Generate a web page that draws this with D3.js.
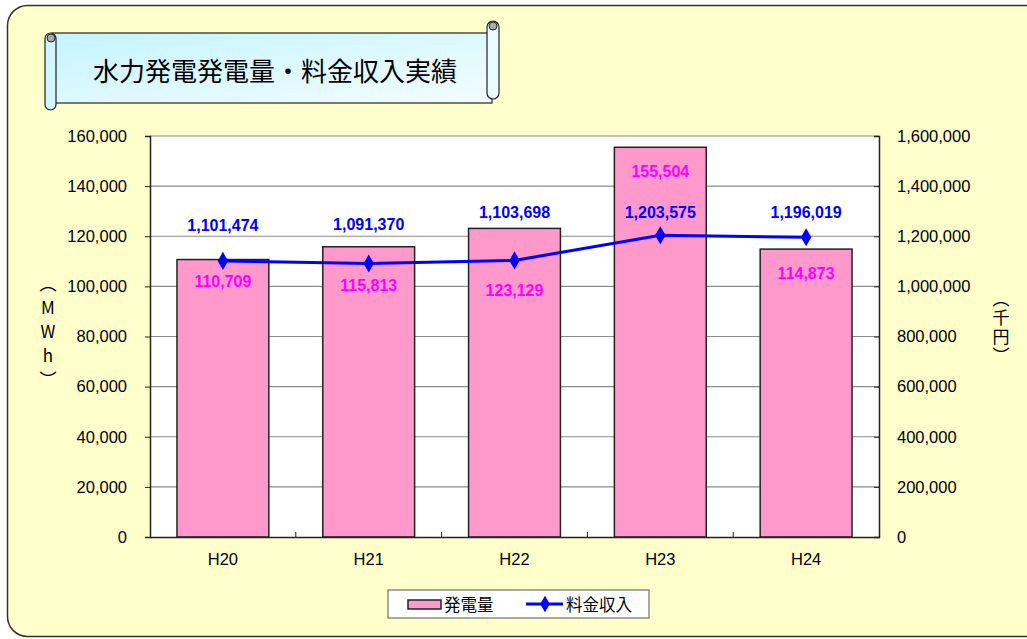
<!DOCTYPE html>
<html>
<head>
<meta charset="utf-8">
<script src="https://cdn.jsdelivr.net/npm/d3@7"></script>
<style>
  body { margin: 0; background: #fff; }
  text { font-family: "Liberation Sans", Arial, "Noto Sans CJK JP", sans-serif; }
  .jp { font-family: "Noto Sans CJK JP", sans-serif; }
</style>
</head>
<body>
<div id="chart"></div>
<script>
// data
const years = ["H20", "H21", "H22", "H23", "H24"];
const generation = [110709, 115813, 123129, 155504, 114873];   // MWh
const revenue = [1101474, 1091370, 1103698, 1203575, 1196019];  // 千円
const leftTicks = [0, 20000, 40000, 60000, 80000, 100000, 120000, 140000, 160000];
const rightTicks = [0, 200000, 400000, 600000, 800000, 1000000, 1200000, 1400000, 1600000];

// label placement (pixels, relative to the mark) as in the original sheet
const barLabelShift = [27, 44, 68, 30, 30];
const lineLabelShift = [-30, -33, -42, -17, -19];

const W = 1027, H = 639;
const plot = { left: 150, right: 879, top: 136, bottom: 537 };
const fmt = d3.format(",");

const svg = d3.select("#chart").append("svg")
    .attr("width", W)
    .attr("height", H);

const defs = svg.append("defs");
const grad = defs.append("linearGradient")
    .attr("id", "scrollGrad")
    .attr("x1", "0").attr("y1", "0").attr("x2", "1").attr("y2", "1");
grad.append("stop").attr("offset", "0%").attr("stop-color", "#c4f4ff");
grad.append("stop").attr("offset", "100%").attr("stop-color", "#f4fdff");

// outer frame
svg.append("rect")
    .attr("x", 7.5).attr("y", 5.5)
    .attr("width", 1040).attr("height", 631)
    .attr("rx", 20).attr("ry", 20)
    .attr("fill", "#ffffcc")
    .attr("stroke", "#333")
    .attr("stroke-width", 1.5);

// title scroll
const scroll = svg.append("g");
scroll.append("rect")
    .attr("x", 52).attr("y", 33).attr("width", 440).attr("height", 70)
    .attr("fill", "url(#scrollGrad)")
    .attr("stroke", "#222").attr("stroke-width", 1.2);
scroll.append("rect")
    .attr("x", 45).attr("y", 33).attr("width", 11).attr("height", 77)
    .attr("rx", 5.5)
    .attr("fill", "#d2f6ff").attr("stroke", "#222").attr("stroke-width", 1.2);
scroll.append("circle")
    .attr("cx", 51).attr("cy", 38).attr("r", 4)
    .attr("fill", "#aaa").attr("stroke", "#222").attr("stroke-width", 1);
scroll.append("rect")
    .attr("x", 487).attr("y", 21).attr("width", 12).attr("height", 78)
    .attr("rx", 6)
    .attr("fill", "#e8fcff").attr("stroke", "#222").attr("stroke-width", 1.2);
scroll.append("circle")
    .attr("cx", 493).attr("cy", 26).attr("r", 4)
    .attr("fill", "#aaa").attr("stroke", "#222").attr("stroke-width", 1);
scroll.append("text")
    .attr("class", "jp")
    .attr("x", 275).attr("y", 81)
    .attr("text-anchor", "middle")
    .attr("font-size", 26)
    .attr("fill", "#000")
    .text("水力発電発電量・料金収入実績");

// scales
const x = d3.scaleBand()
    .domain(years)
    .range([plot.left, plot.right])
    .paddingInner(0.37)
    .paddingOuter(0.185);
const xOuter = d3.scaleBand()
    .domain(years)
    .range([plot.left, plot.right]);
const yL = d3.scaleLinear().domain([0, 160000]).range([plot.bottom, plot.top]);
const yR = d3.scaleLinear().domain([0, 1600000]).range([plot.bottom, plot.top]);

// plot area
svg.append("rect")
    .attr("x", plot.left).attr("y", plot.top)
    .attr("width", plot.right - plot.left).attr("height", plot.bottom - plot.top)
    .attr("fill", "#fff");

svg.append("g").selectAll("line")
    .data(leftTicks.slice(1))
    .enter().append("line")
    .attr("x1", plot.left).attr("x2", plot.right)
    .attr("y1", d => yL(d)).attr("y2", d => yL(d))
    .attr("stroke", "#8c8c8c").attr("stroke-width", 1.2);

// bars
svg.append("g").selectAll(".bar")
    .data(generation)
    .enter().append("rect")
    .attr("class", "bar")
    .attr("x", (d, i) => x(years[i]))
    .attr("y", d => yL(d))
    .attr("width", x.bandwidth())
    .attr("height", d => plot.bottom - yL(d))
    .attr("fill", "#ff99cc")
    .attr("stroke", "#222")
    .attr("stroke-width", 1.5);

// axes
const axisL = svg.append("g")
    .attr("transform", "translate(" + plot.left + ",0)")
    .call(d3.axisLeft(yL).tickValues(leftTicks).tickFormat(fmt).tickSize(5).tickPadding(18));
const axisR = svg.append("g")
    .attr("transform", "translate(" + plot.right + ",0)")
    .call(d3.axisRight(yR).tickValues(rightTicks).tickFormat(fmt).tickSize(-5).tickPadding(18));
const axisB = svg.append("g")
    .attr("transform", "translate(0," + plot.bottom + ")")
    .call(d3.axisBottom(xOuter).tickSize(0).tickPadding(16));

[axisL, axisR, axisB].forEach(a => {
    a.select(".domain").attr("stroke", "#222").attr("stroke-width", 1.5);
    a.selectAll(".tick line").attr("stroke", "#222");
    a.selectAll("text")
        .attr("font-size", 16.5)
        .attr("fill", "#000")
        .style("font-family", "'Liberation Sans', Arial, sans-serif");
});

// category separator ticks on the bottom axis
svg.append("g").selectAll("line")
    .data(years.slice(1))
    .enter().append("line")
    .attr("x1", d => xOuter(d)).attr("x2", d => xOuter(d))
    .attr("y1", plot.bottom).attr("y2", plot.bottom - 5)
    .attr("stroke", "#222");

// revenue line
const cx = i => xOuter(years[i]) + xOuter.bandwidth() / 2;
const line = d3.line()
    .x((d, i) => cx(i))
    .y(d => yR(d));
svg.append("path")
    .datum(revenue)
    .attr("d", line)
    .attr("fill", "none")
    .attr("stroke", "#0000ff")
    .attr("stroke-width", 3);
svg.append("g").selectAll("path")
    .data(revenue)
    .enter().append("path")
    .attr("d", d3.symbol().type(d3.symbolDiamond).size(95))
    .attr("transform", (d, i) => "translate(" + cx(i) + "," + yR(d) + ")")
    .attr("fill", "#0000ff");

// value labels
svg.append("g").selectAll("text")
    .data(generation)
    .enter().append("text")
    .attr("x", (d, i) => cx(i))
    .attr("y", (d, i) => yL(d) + barLabelShift[i])
    .attr("text-anchor", "middle")
    .attr("font-size", 16)
    .attr("font-weight", "bold")
    .attr("fill", "#ff00ff")
    .text(d => fmt(d));

svg.append("g").selectAll("text")
    .data(revenue)
    .enter().append("text")
    .attr("x", (d, i) => cx(i))
    .attr("y", (d, i) => yR(d) + lineLabelShift[i])
    .attr("text-anchor", "middle")
    .attr("font-size", 16)
    .attr("font-weight", "bold")
    .attr("fill", "#0000ff")
    .text(d => fmt(d));

// axis titles (vertical)
const leftTitle = ["︵", "M", "W", "h", "︶"];
svg.append("g").selectAll("text")
    .data(leftTitle)
    .enter().append("text")
    .attr("class", "jp")
    .attr("x", 48)
    .attr("y", (d, i) => 290 + i * 24)
    .attr("text-anchor", "middle")
    .attr("font-size", 17)
    .attr("fill", "#000")
    .text(d => d);

// right title as one vertical text
svg.append("text")
    .attr("class", "jp")
    .attr("x", 1001)
    .attr("y", 328)
    .attr("text-anchor", "middle")
    .attr("font-size", 17)
    .attr("fill", "#000")
    .style("writing-mode", "vertical-rl")
    .style("letter-spacing", "2px")
    .text("（千円）");

// legend
const legend = svg.append("g").attr("transform", "translate(388,590)");
legend.append("rect")
    .attr("width", 261).attr("height", 28)
    .attr("fill", "#fff")
    .attr("stroke", "#555").attr("stroke-width", 1);
legend.append("rect")
    .attr("x", 20).attr("y", 10).attr("width", 33).attr("height", 9)
    .attr("fill", "#ff99cc").attr("stroke", "#222").attr("stroke-width", 1.5);
legend.append("text")
    .attr("class", "jp")
    .attr("x", 56).attr("y", 21)
    .attr("font-size", 16.5)
    .text("発電量");
legend.append("line")
    .attr("x1", 138).attr("x2", 175).attr("y1", 14).attr("y2", 14)
    .attr("stroke", "#0000ff").attr("stroke-width", 3);
legend.append("path")
    .attr("d", d3.symbol().type(d3.symbolDiamond).size(80))
    .attr("transform", "translate(157,14)")
    .attr("fill", "#0000ff");
legend.append("text")
    .attr("class", "jp")
    .attr("x", 178).attr("y", 21)
    .attr("font-size", 16.5)
    .text("料金収入");
</script>
</body>
</html>
